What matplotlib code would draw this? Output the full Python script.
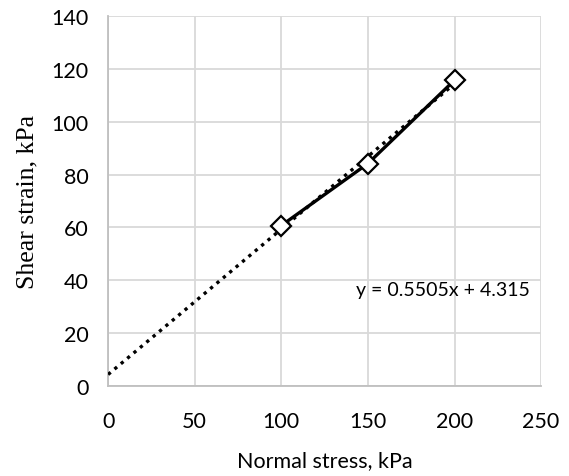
import matplotlib
matplotlib.use("Agg")
import matplotlib.pyplot as plt
import numpy as np

normal_stress = [100, 150, 200]
shear = [60.7, 84.2, 115.75]
eq_label = "y = 0.5505x + 4.315"

x_ticks = [0, 50, 100, 150, 200, 250]
y_ticks = [0, 20, 40, 60, 80, 100, 120, 140]

sans = ["Lato", "DejaVu Sans"]
serif = ["Liberation Serif", "DejaVu Serif"]
grid_c = "#d9d9d9"

fig = plt.figure(figsize=(5.69, 4.77), dpi=100)
ax = fig.add_axes([0.19, 0.189, 0.761, 0.775])

# linear trendline from the data, drawn from x=0
slope, icpt = np.polyfit(normal_stress, shear, 1)
xt = np.array([0, max(normal_stress)])
ax.plot(xt, slope * xt + icpt, color="black", lw=2.4, ls=(0, (1, 1.5)), zorder=3)

ax.plot(normal_stress, shear, color="black", lw=2.4, marker="D", ms=10.5,
        mfc="white", mec="black", mew=1.6, zorder=4)

ax.text(143, 36.5, eq_label, fontsize=14, family=sans, va="center", ha="left")

ax.set_xlim(0, 250)
ax.set_ylim(0, 140)
ax.set_xticks(x_ticks)
ax.set_yticks(y_ticks)
ax.grid(True, color=grid_c, lw=1.3)
ax.set_axisbelow(True)
for s in ["top", "right"]:
    ax.spines[s].set_visible(False)
for s in ["left", "bottom"]:
    ax.spines[s].set_color("#bfbfbf")
    ax.spines[s].set_linewidth(1.3)
ax.tick_params(length=0, labelsize=15.5)
ax.tick_params(axis="x", pad=18)
ax.tick_params(axis="y", pad=14)
for lbl in ax.get_xticklabels() + ax.get_yticklabels():
    lbl.set_family(sans)

ax.set_xlabel("Normal stress, kPa", fontsize=15.5, family=sans, labelpad=14)
ax.set_ylabel("Shear strain, kPa", fontsize=18.5, family=serif, labelpad=9)

fig.savefig("out.png", dpi=100)
